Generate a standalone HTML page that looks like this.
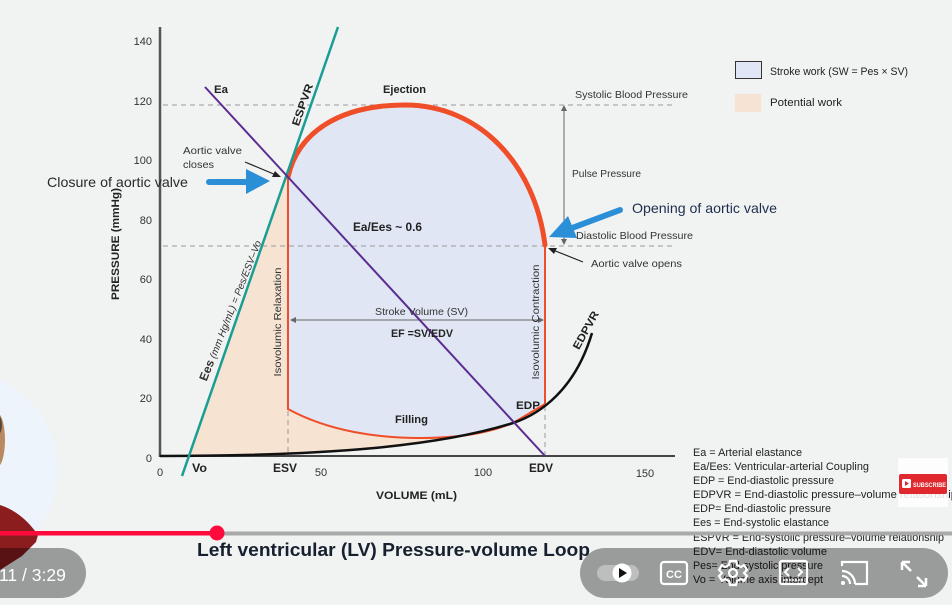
<!DOCTYPE html>
<html><head><meta charset="utf-8"><style>
html,body{margin:0;padding:0;background:#f1f2f2;}
svg{display:block;font-family:"Liberation Sans",sans-serif;}
</style></head><body>
<svg width="952" height="605" viewBox="0 0 952 605" xmlns="http://www.w3.org/2000/svg">
<rect x="0" y="0" width="952" height="605" fill="#f1f2f2"/>

<!-- avatar -->
<circle cx="-41" cy="470" r="99" fill="#eef4fb"/>
<ellipse cx="-3" cy="440" rx="8" ry="27" fill="#b98a62"/>
<ellipse cx="-5" cy="425" rx="7" ry="12" fill="#5a4636"/>
<path d="M0,505 Q22,512 38,535 L36,542 L22,556 L0,570 Z" fill="#8c1d1f"/>

<!-- fills -->
<path d="M189,456 L287,177 L288,409 C330,432 380,438 420,438 C470,438 495,430 513,423 C440,446 330,456 189,456 Z" fill="#f6e3d2"/>
<path d="M288,177 C298,132 340,105 405,105 C480,105 535,165 545,245 L545,404 L513,423 C495,430 470,438 420,438 C380,438 330,432 288,409 Z" fill="#e0e6f4"/>

<!-- dashed lines -->
<g stroke="#9a9a9a" stroke-width="1" stroke-dasharray="5,4" fill="none">
<line x1="163" y1="105" x2="675" y2="105"/>
<line x1="163" y1="246" x2="675" y2="246"/>
<line x1="288" y1="411" x2="288" y2="456"/>
<line x1="545" y1="406" x2="545" y2="456"/>
</g>

<!-- axes -->
<line x1="160" y1="27" x2="160" y2="457" stroke="#555" stroke-width="2.5"/>
<line x1="159" y1="456" x2="675" y2="456" stroke="#444" stroke-width="2"/>

<!-- tick labels -->
<g font-size="11" fill="#333" text-anchor="end">
<text x="152" y="45">140</text>
<text x="152" y="105">120</text>
<text x="152" y="164">100</text>
<text x="152" y="224">80</text>
<text x="152" y="283">60</text>
<text x="152" y="343">40</text>
<text x="152" y="402">20</text>
<text x="152" y="462">0</text>
</g>
<g font-size="11" fill="#333" text-anchor="middle">
<text x="160" y="476">0</text>
<text x="321" y="476">50</text>
<text x="483" y="476">100</text>
<text x="645" y="477">150</text>
</g>

<!-- arrows: SV and pulse pressure -->
<g stroke="#666" stroke-width="1" fill="none">
<line x1="291" y1="320" x2="542" y2="320"/>
<line x1="564" y1="107" x2="564" y2="244"/>
</g>
<path d="M290,320 L296,317 L296,323 Z" fill="#666"/>
<path d="M544,320 L538,317 L538,323 Z" fill="#666"/>
<path d="M564,105 L561,111 L567,111 Z" fill="#666"/>
<path d="M564,245 L561,239 L567,239 Z" fill="#666"/>

<!-- loop strokes -->
<path d="M288,409 C330,432 380,438 420,438 C470,438 495,430 513,423 L545,404" fill="none" stroke="#f04e28" stroke-width="2"/>
<line x1="288" y1="177" x2="288" y2="410" stroke="#f04e28" stroke-width="2"/>
<line x1="545" y1="245" x2="545" y2="405" stroke="#f04e28" stroke-width="2"/>
<path d="M288,177 C298,132 340,105 405,105 C480,105 535,165 545,245" fill="none" stroke="#f04e28" stroke-width="5" stroke-linecap="round"/>

<!-- EDPVR -->
<path d="M160,456 C330,456 440,446 513,423 C540,414 575,390 592,333" fill="none" stroke="#111" stroke-width="2.5"/>

<!-- ESPVR teal -->
<line x1="182" y1="476" x2="338" y2="27" stroke="#1a9e94" stroke-width="2.5"/>
<!-- Ea purple -->
<line x1="205" y1="87" x2="545" y2="456" stroke="#5b2d92" stroke-width="2"/>

<!-- black small arrows -->
<line x1="245" y1="162" x2="276" y2="175" stroke="#222" stroke-width="1.2"/>
<path d="M281,177 L272,177 L275,171 Z" fill="#222"/>
<line x1="583" y1="262" x2="553" y2="250" stroke="#222" stroke-width="1.2"/>
<path d="M548,248 L557,248 L554,254 Z" fill="#222"/>

<!-- blue arrows -->
<line x1="209" y1="182" x2="250" y2="182" stroke="#2b8fd8" stroke-width="6" stroke-linecap="round"/>
<path d="M246,169 L270,181 L246,194 Z" fill="#2b8fd8"/>
<line x1="620" y1="210" x2="572" y2="228" stroke="#2b8fd8" stroke-width="6" stroke-linecap="round"/>
<path d="M549,237 L568,216 L577,238 Z" fill="#2b8fd8"/>

<!-- chart labels -->
<g font-weight="bold" fill="#222" font-size="11">
<text x="214" y="93" textLength="14" lengthAdjust="spacingAndGlyphs">Ea</text>
<text x="383" y="93" textLength="43" lengthAdjust="spacingAndGlyphs">Ejection</text>
<text x="353" y="231" font-size="12" textLength="69" lengthAdjust="spacingAndGlyphs">Ea/Ees ~ 0.6</text>
<text x="391" y="337" textLength="62" lengthAdjust="spacingAndGlyphs">EF =SV/EDV</text>
<text x="395" y="423" textLength="33" lengthAdjust="spacingAndGlyphs">Filling</text>
<text x="516" y="409" textLength="24" lengthAdjust="spacingAndGlyphs">EDP</text>
<text x="529" y="472" font-size="12" textLength="24" lengthAdjust="spacingAndGlyphs">EDV</text>
<text x="273" y="472" font-size="12" textLength="24" lengthAdjust="spacingAndGlyphs">ESV</text>
<text x="192" y="472" font-size="12" textLength="15" lengthAdjust="spacingAndGlyphs">Vo</text>
<text x="376" y="499" textLength="81" lengthAdjust="spacingAndGlyphs">VOLUME (mL)</text>
<text transform="translate(119,244) rotate(-90)" text-anchor="middle" textLength="112" lengthAdjust="spacingAndGlyphs">PRESSURE (mmHg)</text>
<text transform="translate(306,106) rotate(-70.8)" text-anchor="middle" textLength="44" lengthAdjust="spacingAndGlyphs">ESPVR</text>
<text transform="translate(589,332) rotate(-61)" text-anchor="middle" textLength="42" lengthAdjust="spacingAndGlyphs">EDPVR</text>
</g>
<g fill="#333" font-size="10.5">
<text x="183" y="154" textLength="59" lengthAdjust="spacingAndGlyphs">Aortic valve</text>
<text x="183" y="168" textLength="31" lengthAdjust="spacingAndGlyphs">closes</text>
<text x="375" y="315" textLength="93" lengthAdjust="spacingAndGlyphs">Stroke Volume (SV)</text>
<text x="575" y="98" textLength="113" lengthAdjust="spacingAndGlyphs">Systolic Blood Pressure</text>
<text x="572" y="177" textLength="69" lengthAdjust="spacingAndGlyphs">Pulse Pressure</text>
<text x="576" y="239" textLength="117" lengthAdjust="spacingAndGlyphs">Diastolic Blood Pressure</text>
<text x="591" y="267" textLength="91" lengthAdjust="spacingAndGlyphs">Aortic valve opens</text>
<text transform="translate(281,322) rotate(-90)" text-anchor="middle" textLength="109" lengthAdjust="spacingAndGlyphs">Isovolumic Relaxation</text>
<text transform="translate(539,322) rotate(-90)" text-anchor="middle" textLength="115" lengthAdjust="spacingAndGlyphs">Isovolumic Contraction</text>
<text transform="translate(234,312) rotate(-68.5)" text-anchor="middle" textLength="150" lengthAdjust="spacingAndGlyphs"><tspan font-weight="bold" font-size="12">Ees</tspan><tspan font-style="italic" font-size="10"> (mm Hg/mL) = Pes/ESV–Vo</tspan></text>
</g>
<text x="47" y="187" font-size="14" fill="#2a2a2a" textLength="141" lengthAdjust="spacingAndGlyphs">Closure of aortic valve</text>
<text x="632" y="213" font-size="14" fill="#1d2f4d" textLength="145" lengthAdjust="spacingAndGlyphs">Opening of aortic valve</text>

<!-- legend -->
<rect x="735.5" y="61.5" width="26" height="17" fill="#e0e6f6" stroke="#333" stroke-width="1"/>
<rect x="735" y="94" width="26" height="18" fill="#f6e3d3"/>
<text x="770" y="75" font-size="11" fill="#222" textLength="138" lengthAdjust="spacingAndGlyphs">Stroke work (SW = Pes × SV)</text>
<text x="770" y="106" font-size="11" fill="#222" textLength="72" lengthAdjust="spacingAndGlyphs">Potential work</text>

<!-- definitions -->
<g font-size="11" fill="#222">
<text x="693" y="456" textLength="109" lengthAdjust="spacingAndGlyphs">Ea = Arterial elastance</text>
<text x="693" y="470" textLength="176" lengthAdjust="spacingAndGlyphs">Ea/Ees: Ventricular-arterial Coupling</text>
<text x="693" y="484" textLength="141" lengthAdjust="spacingAndGlyphs">EDP = End-diastolic pressure</text>
<text x="693" y="498" textLength="264" lengthAdjust="spacingAndGlyphs">EDPVR = End-diastolic pressure–volume relationship</text>
<text x="693" y="512" textLength="138" lengthAdjust="spacingAndGlyphs">EDP= End-diastolic pressure</text>
<text x="693" y="526" textLength="136" lengthAdjust="spacingAndGlyphs">Ees = End-systolic elastance</text>
<text x="693" y="541" textLength="251" lengthAdjust="spacingAndGlyphs">ESPVR = End-systolic pressure–volume relationship</text>
<text x="693" y="555" textLength="134" lengthAdjust="spacingAndGlyphs">EDV= End-diastolic volume</text>
<text x="693" y="569" textLength="130" lengthAdjust="spacingAndGlyphs">Pes= End-systolic pressure</text>
<text x="693" y="583" textLength="130" lengthAdjust="spacingAndGlyphs">Vo = Volume axis intercept</text>
</g>

<!-- title -->
<text x="197" y="556" font-size="18" font-weight="bold" fill="#17202e" textLength="393" lengthAdjust="spacingAndGlyphs">Left ventricular (LV) Pressure-volume Loop</text>

<!-- subscribe -->
<rect x="898" y="458" width="50" height="49" fill="#ffffff" opacity="0.85"/>
<rect x="899" y="474" width="48" height="20" rx="2" fill="#e0282e"/>
<rect x="902" y="479" width="9" height="9" rx="1.5" fill="#fff"/>
<path d="M905,481 L909,483.5 L905,486 Z" fill="#e0282e"/>
<text x="913" y="487" font-size="6.5" font-weight="bold" fill="#fff" textLength="33" lengthAdjust="spacingAndGlyphs">SUBSCRIBE</text>

<!-- progress bar -->
<rect x="217" y="531.5" width="735" height="4" fill="#a9a9a9"/>
<rect x="0" y="531" width="217" height="4.5" fill="#ff0a3c"/>
<circle cx="217" cy="533" r="7.5" fill="#ff0a3c"/>

<!-- time pill -->
<rect x="-40" y="548" width="126" height="50" rx="25" fill="rgba(0,0,0,0.36)"/>
<text x="-1" y="581" font-size="17.5" fill="#fff">11 / 3:29</text>

<!-- controls pill -->
<rect x="580" y="548" width="368" height="50" rx="25" fill="rgba(0,0,0,0.36)"/>
<!-- autoplay toggle -->
<rect x="597" y="565" width="42" height="16" rx="8" fill="rgba(255,255,255,0.35)"/>
<circle cx="622" cy="573" r="9.5" fill="#fff"/>
<path d="M619,568 L627,573 L619,578 Z" fill="#111"/>
<!-- CC -->
<rect x="661" y="562" width="26" height="22" rx="3" fill="none" stroke="#fff" stroke-width="2.2"/>
<text x="674" y="578" font-size="11" font-weight="bold" fill="#fff" text-anchor="middle">CC</text>
<!-- gear -->
<g transform="translate(733,573)" fill="none" stroke="#fff" stroke-width="2.2">
<circle r="4"/>
<path d="M-3,-12 L3,-12 L4,-8 L8,-6 L11,-8 L14,-3 L11,0 L14,3 L11,8 L8,6 L4,8 L3,12 L-3,12 L-4,8 L-8,6 L-11,8 L-14,3 L-11,0 L-14,-3 L-11,-8 L-8,-6 L-4,-8 Z"/>
</g>
<!-- theater -->
<rect x="780" y="561" width="27" height="23" rx="2" fill="none" stroke="#fff" stroke-width="2.2"/>
<path d="M789,568 L785,572 L789,576 M798,568 L802,572 L798,576" fill="none" stroke="#fff" stroke-width="2"/>
<line x1="783" y1="580" x2="804" y2="580" stroke="#fff" stroke-width="1.5" stroke-dasharray="2,1"/>
<!-- cast -->
<path d="M842,566 L842,562 L867,562 L867,584 L855,584" fill="none" stroke="#fff" stroke-width="2.2"/>
<path d="M842,571 A13,13 0 0 1 855,584 M842,576 A8,8 0 0 1 850,584" fill="none" stroke="#fff" stroke-width="2.2"/>
<circle cx="843" cy="583" r="2" fill="#fff"/>
<!-- fullscreen arrows -->
<path d="M902,562 L902,570 M902,562 L910,562 M902,562 L911,571 M926,586 L926,578 M926,586 L918,586 M926,586 L917,577" fill="none" stroke="#fff" stroke-width="2.5"/>
</svg>
</body></html>
